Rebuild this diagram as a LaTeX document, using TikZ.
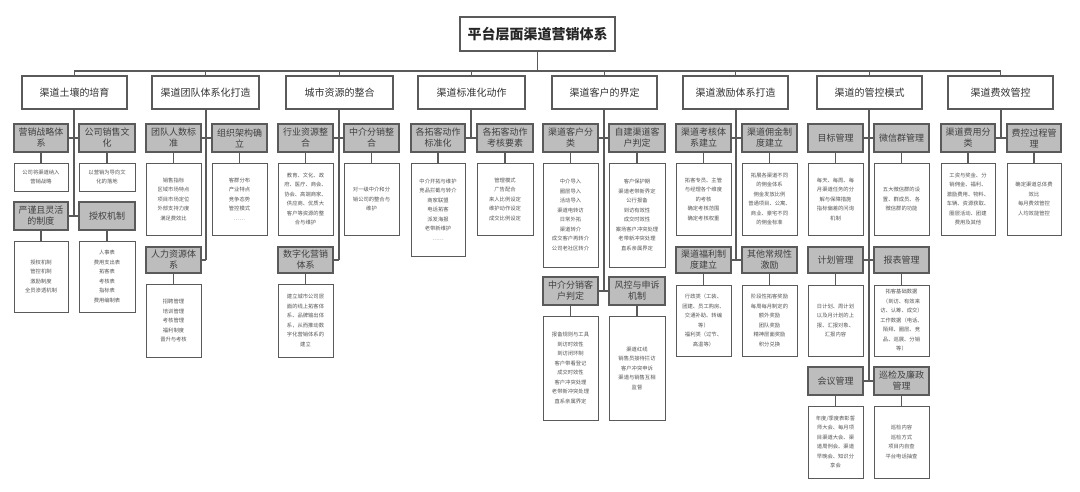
\documentclass[tikz,border=0pt]{standalone}
\usepackage{fontspec}
\setmainfont{Noto Sans CJK SC}
\definecolor{gfill}{HTML}{BDBDBD}
\definecolor{edge}{HTML}{5A5A5A}
\definecolor{wtext}{HTML}{555555}
\tikzset{
 base/.style={draw=edge,line width=1.1pt,inner sep=0pt,align=center},
 rootbox/.style={base,fill=white,font=\fontsize{14}{16}\selectfont\bfseries,text=black!85},
 lonebox/.style={base,fill=white,font=\fontsize{10}{12}\selectfont,text=black!80},
 graybox/.style={base,fill=gfill,font=\fontsize{9}{11}\selectfont,text=black!75},
 whitebox/.style={base,line width=0.9pt,fill=white,font=\fontsize{5.3}{9.5}\selectfont,text=wtext},
 conn/.style={draw=edge,line width=1.1pt}
}
\newcommand\bx[7]{\node[#1,minimum width={(#4)-(#2)},minimum height={(#5)-(#3)}] (#6) at ({((#2)+(#4))/2},{((#3)+(#5))/2}) {#7};}
\begin{document}
\begin{tikzpicture}[x=1pt,y=-1pt]
\useasboundingbox[fill=white] (0,0) rectangle (1080,492);
\coordinate (bus) at (0,71);
\bx{rootbox}{460}{17}{615}{51}{root}{平台层面渠道营销体系}
% level 1
\bx{lonebox}{22}{76}{127}{109}{c1}{渠道土壤的培育}
\bx{lonebox}{152}{76}{259}{109}{c2}{渠道团队体系化打造}
\bx{lonebox}{286}{76}{393}{109}{c3}{城市资源的整合}
\bx{lonebox}{418}{76}{525}{109}{c4}{渠道标准化动作}
\bx{lonebox}{552}{76}{657}{109}{c5}{渠道客户的界定}
\bx{lonebox}{683}{76}{788}{109}{c6}{渠道激励体系打造}
\bx{lonebox}{817}{76}{922}{109}{c7}{渠道的管控模式}
\bx{lonebox}{948}{76}{1053}{109}{c8}{渠道费效管控}
\draw[conn] (root.south) -- (root.south|-bus);
\draw[conn] (c1.north) -- (c1.north|-bus) -- (c8.north|-bus) -- (c8.north);
\foreach \c in {c2,c3,c4,c5,c6,c7}{\draw[conn] (\c.north) -- (\c.north|-bus);}
% column 1
\bx{graybox}{14}{124}{68}{152}{g11}{营销战略体\\系}
\bx{graybox}{79}{124}{135}{152}{g12}{公司销售文\\化}
\bx{whitebox}{14}{163}{68}{191}{w11}{公司将渠道纳入\\营销战略}
\bx{whitebox}{79}{163}{135}{191}{w12}{以营销为导向文\\化的落地}
\bx{graybox}{14}{202}{68}{230}{g13}{严谨且灵活\\的制度}
\bx{graybox}{79}{202}{135}{230}{g14}{授权机制}
\bx{whitebox}{14}{241}{68}{312}{w13}{授权机制\\管控机制\\激励制度\\全员渗透机制}
\bx{whitebox}{79}{241}{135}{312}{w14}{人事表\\费用支出表\\拓客表\\考核表\\指标表\\费用编制表}
% column 2
\bx{graybox}{146}{124}{201}{152}{g21}{团队人数标\\准}
\bx{graybox}{212}{124}{267}{152}{g22}{组织架构确\\立}
\bx{whitebox}{146}{163}{201}{235}{w21}{销售指标\\区域市场特点\\项目市场定位\\外部支持力度\\满足费效比}
\bx{whitebox}{212}{163}{267}{235}{w22}{客群分布\\产业特点\\竞争态势\\管控模式\\……}
\bx{graybox}{146}{247}{201}{273}{g23}{人力资源体\\系}
\bx{whitebox}{146}{284}{201}{357}{w23}{招聘管理\\培训管理\\考核管理\\福利制度\\晋升与考核}
% column 3
\bx{graybox}{278}{124}{333}{152}{g31}{行业资源整\\合}
\bx{graybox}{344}{124}{399}{152}{g32}{中介分销整\\合}
\bx{whitebox}{278}{163}{333}{235}{w31}{教育、文化、政\\府、医疗、商会、\\协会、高端商家、\\供应商、优质大\\客户等资源的整\\合与维护}
\bx{whitebox}{344}{163}{399}{235}{w32}{对一级中介和分\\销公司的整合与\\维护}
\bx{graybox}{278}{247}{333}{273}{g33}{数字化营销\\体系}
\bx{whitebox}{278}{284}{333}{357}{w33}{建立城市公司层\\面的线上拓客体\\系、品牌输出体\\系，从而推动数\\字化营销体系的\\建立}
% column 4
\bx{graybox}{411}{124}{465}{152}{g41}{各拓客动作\\标准化}
\bx{graybox}{477}{124}{533}{152}{g42}{各拓客动作\\考核要素}
\bx{whitebox}{411}{163}{465}{256}{w41}{中介开拓与维护\\竞品拦截与转介\\商家联盟\\电话拓客\\派发海报\\老带新维护\\……}
\bx{whitebox}{477}{163}{533}{235}{w42}{管理模式\\广告配合\\来人比例设定\\维护动作设定\\成交比例设定}
% column 5
\bx{graybox}{543}{124}{598}{152}{g51}{渠道客户分\\类}
\bx{graybox}{609}{124}{665}{152}{g52}{自建渠道客\\户判定}
\bx{whitebox}{543}{163}{598}{267}{w51}{中介导入\\圈层导入\\活动导入\\渠道电转访\\日常外拓\\渠道转介\\成交客户再转介\\公司老社区转介}
\bx{whitebox}{609}{163}{665}{267}{w52}{客户保护期\\渠道老带新界定\\公行报备\\到访有效性\\成交时效性\\案场客户冲突处理\\老带新冲突处理\\直系亲属界定}
\bx{graybox}{543}{277}{598}{305}{g53}{中介分销客\\户判定}
\bx{graybox}{609}{277}{665}{305}{g54}{风控与申诉\\机制}
\bx{whitebox}{543}{316}{598}{420}{w53}{报备规则与工具\\到访时效性\\到访闭环制\\客户带看登记\\成交时效性\\客户冲突处理\\老带新冲突处理\\直系亲属界定}
\bx{whitebox}{609}{316}{665}{420}{w54}{渠道红线\\销售员接待拦访\\客户冲突申诉\\渠道与销售互相\\监督}
% column 6
\bx{graybox}{676}{124}{731}{152}{g61}{渠道考核体\\系建立}
\bx{graybox}{742}{124}{797}{152}{g62}{渠道佣金制\\度建立}
\bx{whitebox}{676}{163}{731}{235}{w61}{拓客专员、主管\\与经理各个维度\\的考核\\确定考核范围\\确定考核权重}
\bx{whitebox}{742}{163}{797}{235}{w62}{拓展各渠道不同\\的佣金体系\\佣金发放比例\\普通项目、公寓、\\商业、豪宅不同\\的佣金标准}
\bx{graybox}{676}{247}{731}{273}{g63}{渠道福利制\\度建立}
\bx{graybox}{742}{247}{797}{273}{g64}{其他常规性\\激励}
\bx{whitebox}{676}{285}{731}{356}{w63}{行政类（工装、\\团建、员工购房、\\交通补助、转编\\等）\\福利类（过节、\\高温等）}
\bx{whitebox}{742}{285}{797}{356}{w64}{阶段性拓客奖励\\每周每月制定的\\额外奖励\\团队奖励\\精神层面奖励\\积分兑换}
% column 7
\bx{graybox}{808}{124}{863}{152}{g71}{目标管理}
\bx{graybox}{874}{124}{929}{152}{g72}{微信群管理}
\bx{whitebox}{808}{163}{863}{235}{w71}{每天、每周、每\\月渠道任务的分\\解与保障措施\\指标偏差的问询\\机制}
\bx{whitebox}{874}{163}{929}{235}{w72}{五大微信群的设\\置、群成员、各\\微信群的功能}
\bx{graybox}{808}{247}{863}{273}{g73}{计划管理}
\bx{graybox}{874}{247}{929}{273}{g74}{报表管理}
\bx{whitebox}{808}{285}{863}{356}{w73}{日计划、周计划\\以及月计划的上\\报、汇报对象、\\汇报内容}
\bx{whitebox}{874}{285}{929}{356}{w74}{拓客基础数据\\（到访、有效来\\访、认筹、成交）\\工作数据（电话、\\陌拜、圈层、竞\\品、巡展、分销\\等）}
\bx{graybox}{808}{367}{863}{395}{g75}{会议管理}
\bx{graybox}{874}{367}{929}{395}{g76}{巡检及廉政\\管理}
\bx{whitebox}{808}{406}{863}{478}{w75}{年度/季度表彰誓\\师大会、每月项\\目渠道大会、渠\\道周例会、渠道\\早晚会、知识分\\享会}
\bx{whitebox}{874}{406}{929}{478}{w76}{巡检内容\\巡检方式\\项目内自查\\平台电话抽查}
% column 8
\bx{graybox}{941}{124}{995}{152}{g81}{渠道费用分\\类}
\bx{graybox}{1007}{124}{1061}{152}{g82}{费控过程管\\理}
\bx{whitebox}{941}{163}{995}{235}{w81}{工资与奖金、分\\销佣金、福利、\\激励费用、物料、\\车辆、资源获取、\\圈层活动、团建\\费用及其他}
\bx{whitebox}{1007}{163}{1061}{235}{w82}{确定渠道总体费\\效比\\每月费效管控\\人均效能管控}
% trunks and branches
\coordinate (t1) at (74,0) ; \coordinate (t2) at (206,0); \coordinate (t3) at (339,0); \coordinate (t4) at (471,0);
\coordinate (t5) at (604,0); \coordinate (t6) at (736,0); \coordinate (t7) at (869,0); \coordinate (t8) at (1001,0);
\draw[conn] (t1|-c1.south) -- (t1|-g13.east);
\draw[conn] (t2|-c2.south) -- (t2|-g23.east);
\draw[conn] (t3|-c3.south) -- (t3|-g33.east);
\draw[conn] (t4|-c4.south) -- (t4|-g41.east);
\draw[conn] (t5|-c5.south) -- (t5|-g53.east);
\draw[conn] (t6|-c6.south) -- (t6|-g63.east);
\draw[conn] (t7|-c7.south) -- (t7|-g75.east);
\draw[conn] (t8|-c8.south) -- (t8|-g81.east);
\foreach \l/\r in {g11/g12,g13/g14,g21/g22,g31/g32,g41/g42,g51/g52,g53/g54,g61/g62,g63/g64,g71/g72,g73/g74,g75/g76,g81/g82}{\draw[conn] (\l.east) -- (\r.west);}
\draw[conn] (g23.east) -- (t2|-g23.east);
\draw[conn] (g33.east) -- (t3|-g33.east);
\foreach \g/\w in {g11/w11,g12/w12,g13/w13,g14/w14,g21/w21,g22/w22,g23/w23,g31/w31,g32/w32,g33/w33,g41/w41,g42/w42,g51/w51,g52/w52,g53/w53,g54/w54,g61/w61,g62/w62,g63/w63,g64/w64,g71/w71,g72/w72,g73/w73,g74/w74,g75/w75,g76/w76,g81/w81,g82/w82}{\draw[conn] (\g.south) -- (\w.north);}
\end{tikzpicture}
\end{document}
